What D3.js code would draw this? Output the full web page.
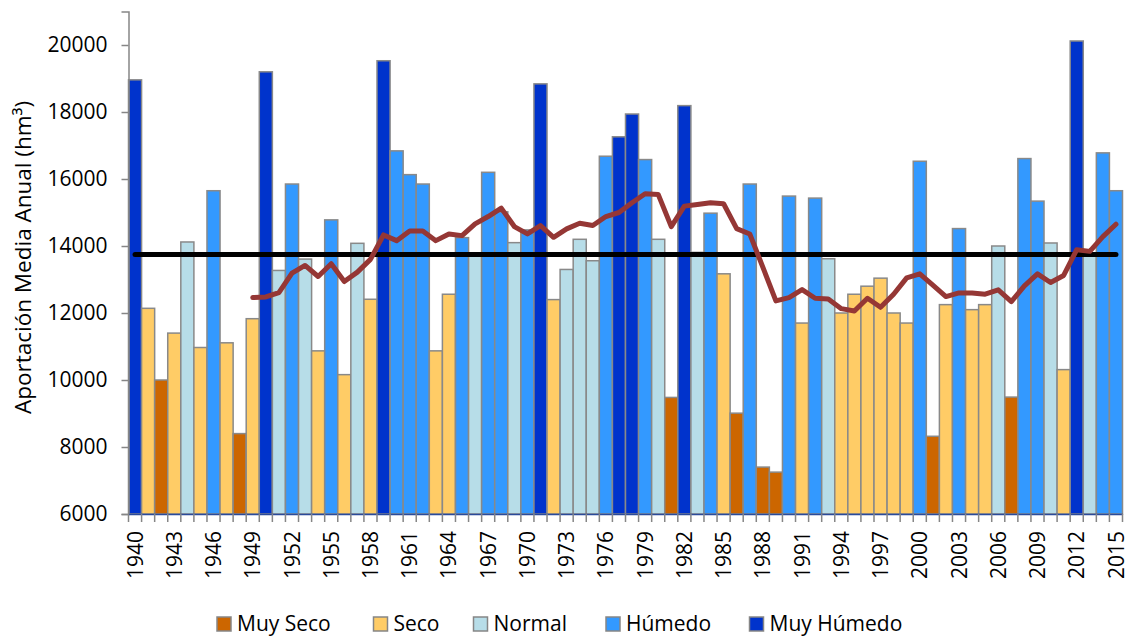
<!DOCTYPE html>
<html>
<head>
<meta charset="utf-8">
<script src="https://cdn.jsdelivr.net/npm/d3@7"></script>
<style>
  html, body { margin: 0; padding: 0; background: #fff; }
  svg { display: block; }
  text { font-family: "Open Sans", "Noto Sans", sans-serif; fill: #000; }
</style>
</head>
<body>
<svg id="chart" width="1128" height="637"></svg>
<script>
// ---- data ----
const years = d3.range(1940, 2016);
const values = [
  18960, 12140, 10000, 11400, 14120, 10970, 15650, 11110, 8400, 11830,
  19200, 13270, 15850, 13610, 10870, 14780, 10160, 14080, 12410, 19530,
  16840, 16130, 15850, 10870, 12560, 14250, 13720, 16200, 15020, 14100,
  14480, 18840, 12400, 13300, 14200, 13560, 16680, 17260, 17940, 16580,
  14200, 9480, 18190, 13810, 14980, 13170, 9010, 15850, 7400, 7250,
  15490, 11700, 15430, 13620, 12000, 12560, 12800, 13040, 12000, 11700,
  16530, 8320, 12250, 14520, 12100, 12250, 14000, 9490, 16610, 15340,
  14090, 10310, 20120, 13730, 16780, 15650
];
const classes = [
  "MH","S","MS","S","N","S","H","S","MS","S",
  "MH","N","H","N","S","H","S","N","S","MH",
  "H","H","H","S","S","H","N","H","H","N",
  "H","MH","S","N","N","N","H","MH","MH","H",
  "N","MS","MH","N","H","S","MS","H","MS","MS",
  "H","S","H","N","S","S","S","S","S","S",
  "H","MS","S","H","S","S","N","MS","H","H",
  "N","S","MH","N","H","H"
];
const movAvgYears = d3.range(1949, 2016);
const movAvg = [
  12460, 12480, 12610, 13190, 13420, 13090, 13470, 12940, 13220, 13600,
  14330, 14160, 14450, 14450, 14160, 14360, 14310, 14660, 14880, 15130,
  14580, 14360, 14610, 14260, 14510, 14680, 14610, 14880, 15000, 15290,
  15560, 15540, 14580, 15190, 15240, 15290, 15260, 14520, 14360, 13370,
  12360, 12460, 12700, 12440, 12420, 12130, 12060, 12440, 12170, 12560,
  13050, 13170, 12830, 12490, 12600, 12600, 12560, 12690, 12340, 12810,
  13170, 12910, 13120, 13890, 13840, 14280, 14650
];
const meanValue = 13750;
const classKeys = ["MS", "S", "N", "H", "MH"];
const classLabels = ["Muy Seco", "Seco", "Normal", "Húmedo", "Muy Húmedo"];
const classColors = ["#CC6600", "#FFCC66", "#B7DDE8", "#3399FF", "#0033CC"];
const yTicks = [6000, 8000, 10000, 12000, 14000, 16000, 18000, 20000];
const xLabelYears = years.filter(v => (v - 1940) % 3 === 0);
const yTitle = "Aportación Media Anual (hm³)";

// ---- layout ----
const svg = d3.select("#chart");
const plotLeft = 128.5, plotRight = 1122.5, plotTop = 11.5, plotBottom = 514;
const axisGray = "#868686";

const x = d3.scaleBand().domain(years).range([plotLeft, plotRight]).padding(0);
const y = d3.scaleLinear().domain([6000, 21000]).range([plotBottom, plotTop]);
const color = d3.scaleOrdinal().domain(classKeys).range(classColors);

// bars
svg.append("g").selectAll("rect").data(years).join("rect")
  .attr("x", d => x(d))
  .attr("y", (d, i) => y(values[i]))
  .attr("width", x.bandwidth())
  .attr("height", (d, i) => plotBottom - y(values[i]))
  .attr("fill", (d, i) => color(classes[i]))
  .attr("stroke", "#898989")
  .attr("stroke-width", 1.5);

// y axis
const yAxis = svg.append("g").attr("transform", `translate(${plotLeft},0)`)
  .call(d3.axisLeft(y).tickValues(yTicks).tickSize(7).tickPadding(14).tickFormat(d3.format("d")));
yAxis.select(".domain").attr("stroke", axisGray).attr("stroke-width", 1.5);
yAxis.selectAll(".tick line").attr("stroke", axisGray).attr("stroke-width", 1.5);
yAxis.selectAll(".tick text").attr("font-size", 21).attr("font-family", "Open Sans").attr("fill", "#000");

// x axis
const xAxis = svg.append("g").attr("transform", `translate(0,${plotBottom})`)
  .call(d3.axisBottom(x).tickValues(xLabelYears).tickSize(0).tickPadding(0));
xAxis.select(".domain").attr("stroke", "#2a4a9a").attr("stroke-width", 1.5);
xAxis.selectAll(".tick text")
  .attr("font-size", 21).attr("font-family", "Open Sans").attr("fill", "#000")
  .attr("transform", "rotate(-90)")
  .attr("text-anchor", "end")
  .attr("x", -17).attr("y", 0).attr("dy", "0.36em");
// x tick marks at category boundaries
const boundaries = years.map(d => x(d)).concat([x(years[years.length - 1]) + x.bandwidth()]);
svg.append("g").selectAll("line").data(boundaries).join("line")
  .attr("x1", d => d).attr("x2", d => d)
  .attr("y1", plotBottom).attr("y2", plotBottom + 8)
  .attr("stroke", axisGray).attr("stroke-width", 1.5);

// mean line
svg.append("line")
  .attr("x1", x(years[0]) + x.bandwidth() / 2)
  .attr("x2", x(years[years.length - 1]) + x.bandwidth() / 2)
  .attr("y1", y(meanValue)).attr("y2", y(meanValue))
  .attr("stroke", "#000").attr("stroke-width", 5).attr("stroke-linecap", "round");

// moving average
const line = d3.line()
  .x((d, i) => x(movAvgYears[i]) + x.bandwidth() / 2)
  .y(d => y(d));
svg.append("path").datum(movAvg)
  .attr("d", line)
  .attr("fill", "none")
  .attr("stroke", "#953735").attr("stroke-width", 5)
  .attr("stroke-linejoin", "round").attr("stroke-linecap", "round");

// y title
svg.append("text")
  .attr("transform", `translate(31,${(90 + 425) / 2}) rotate(-90)`)
  .attr("text-anchor", "middle")
  .attr("font-size", 22.5)
  .text(yTitle);

// legend
const legendX = [217, 373.5, 473.5, 606, 749.5];
const lg = svg.append("g").selectAll("g").data(classKeys).join("g")
  .attr("transform", (d, i) => `translate(${legendX[i]},617)`);
lg.append("rect").attr("width", 14).attr("height", 14)
  .attr("fill", d => color(d)).attr("stroke", axisGray).attr("stroke-width", 1.5);
lg.append("text").attr("x", 20).attr("y", 14)
  .attr("font-size", 21)
  .text((d, i) => classLabels[i]);
</script>
</body>
</html>
